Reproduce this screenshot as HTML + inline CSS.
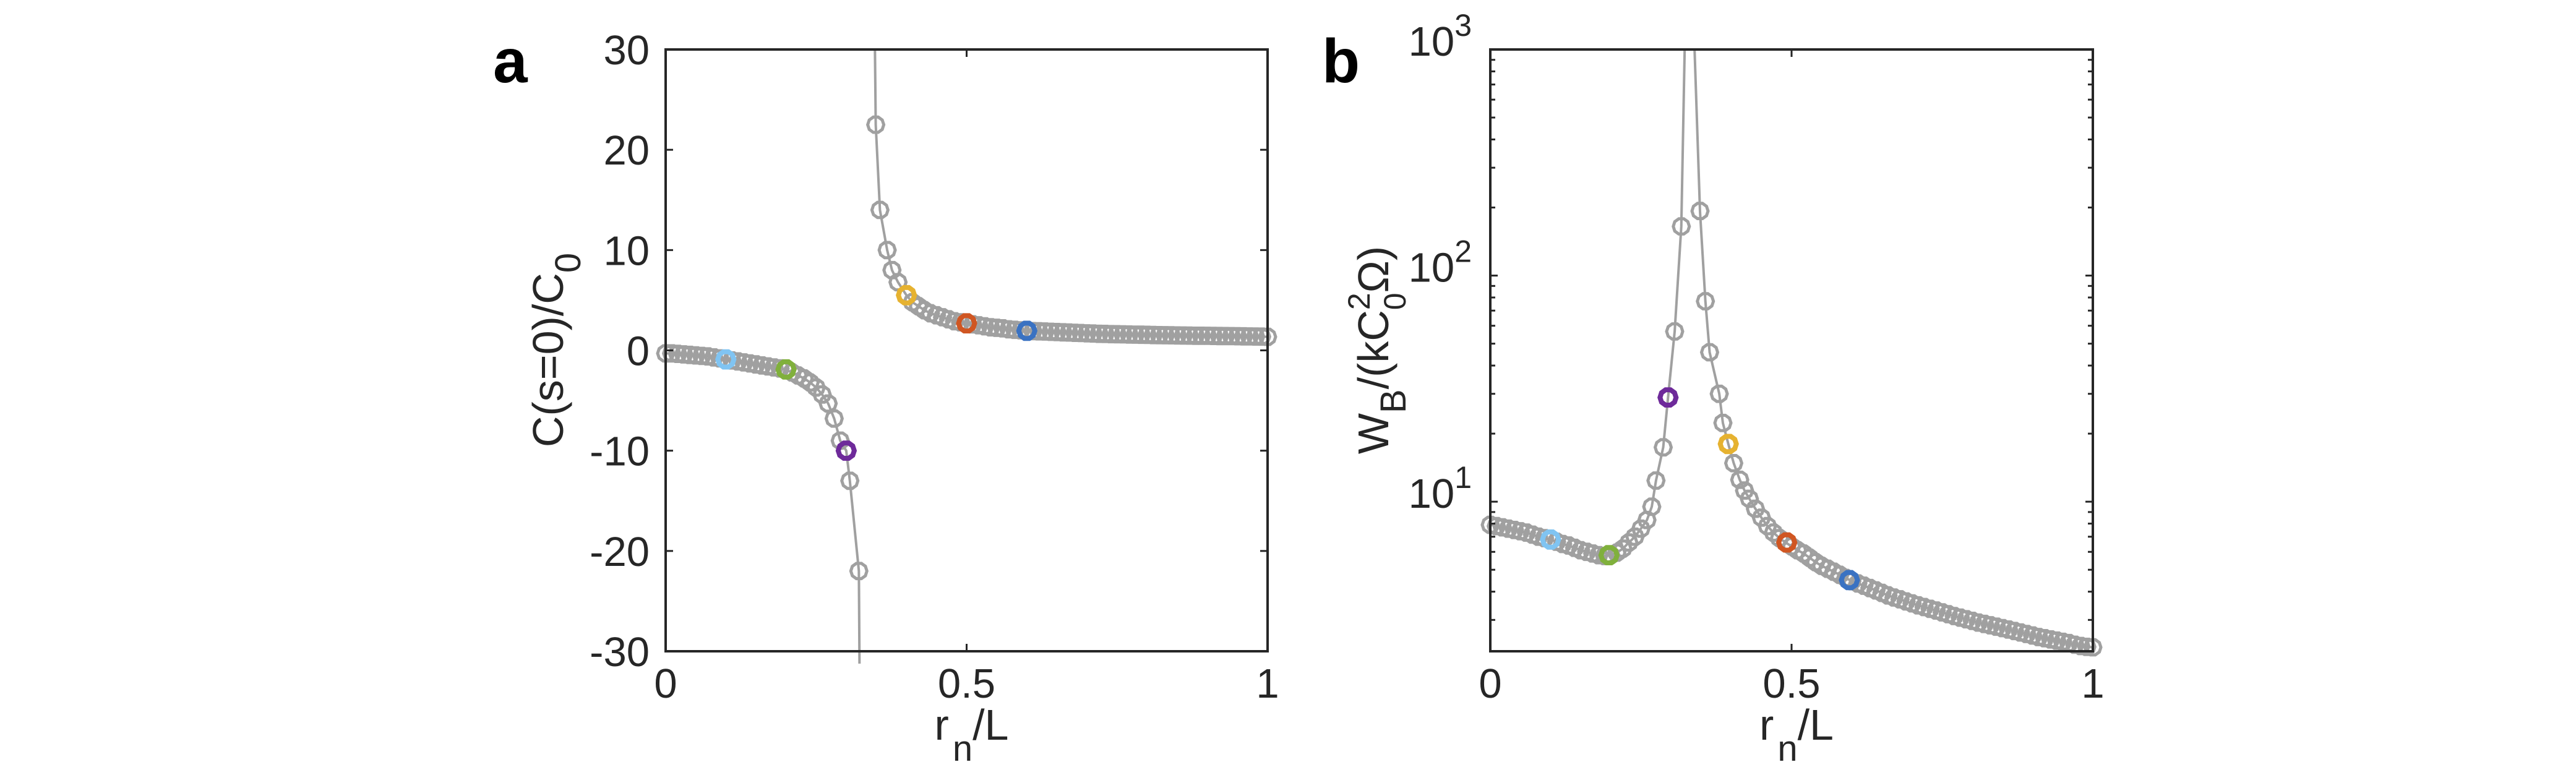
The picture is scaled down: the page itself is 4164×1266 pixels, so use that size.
<!DOCTYPE html>
<html><head><meta charset="utf-8"><style>
html,body{margin:0;padding:0;background:#fff;}
svg{display:block;font-family:"Liberation Sans",Arial,sans-serif;}
</style></head><body>
<svg id="fig" width="4164" height="1266" viewBox="0 0 4164 1266" xmlns="http://www.w3.org/2000/svg">
<g id="pa"></g>
<g id="pb"></g>
</svg>
<script>
// Panel a data
const aX = [0,.01,.02,.03,.04,.05,.06,.07,.08,.09,.10,.11,.12,.13,.14,.15,.16,.17,.18,.19,.20,.21,.22,.23,.24,.25,.26,.27,.28,.29,.30,.306,.321,
 .349,.356,.368,.376,.386,.40,.41,.42,.43,.44,.45,.46,.47,.48,.49,.50,.51,.52,.53,.54,.55,.56,.57,.58,.59,.60,.61,.62,.63,.64,.65,.66,.67,.68,.69,.70,
 .71,.72,.73,.74,.75,.76,.77,.78,.79,.80,.81,.82,.83,.84,.85,.86,.87,.88,.89,.90,.91,.92,.93,.94,.95,.96,.97,.98,.99,1.0];
const aY = [-0.3,-0.3,-0.35,-0.4,-0.45,-0.5,-0.55,-0.6,-0.7,-0.8,-0.9,-1.0,-1.1,-1.2,-1.3,-1.4,-1.5,-1.6,-1.7,-1.8,-1.95,-2.2,-2.5,-2.8,-3.2,-3.7,-4.4,-5.3,-6.8,-9,-10,-13,-22,
 22.5,14,10,8,6.8,5.5,4.8,4.4,4.0,3.7,3.5,3.3,3.1,2.9,2.8,2.7,2.6,2.5,2.4,2.3,2.25,2.2,2.1,2.05,2.0,1.95,1.92,1.9,1.88,1.85,1.83,1.8,1.78,1.75,1.73,1.7,
 1.68,1.65,1.64,1.62,1.61,1.6,1.58,1.57,1.56,1.55,1.53,1.52,1.51,1.5,1.49,1.48,1.47,1.46,1.455,1.45,1.44,1.43,1.425,1.42,1.41,1.4,1.39,1.38,1.37,1.35];
const aBranchSplit = 33;
const aLowEnd = [0.323,-40];
const aUpStart = [0.346,40];
const aHiX = [0.1,0.2,0.3,0.4,0.5,0.6];
const aHiY = [-0.9,-1.9,-10,5.5,2.7,1.95];
const aYTicks = [-30,-20,-10,0,10,20,30];
const aYTickLabels = ["-30","-20","-10","0","10","20","30"];
const xTicks = [0,0.5,1];
const xTickLabels = ["0","0.5","1"];
// Panel b data
const bX = [0,.01,.02,.03,.04,.05,.06,.07,.08,.09,.10,.11,.12,.13,.14,.15,.16,.17,.18,.19,.20,.21,.22,.23,.24,.25,.26,.268,.275,.287,.295,.306,.317,
 .348,.357,.364,.38,.386,.395,.404,.414,.422,.43,.44,.45,.46,.47,.48,.49,.50,.51,.52,.53,.54,.55,.56,.57,.58,.59,.60,.61,.62,.63,.64,.65,.66,.67,.68,.69,.70,
 .71,.72,.73,.74,.75,.76,.77,.78,.79,.80,.81,.82,.83,.84,.85,.86,.87,.88,.89,.90,.91,.92,.93,.94,.95,.96,.97,.98,.99,1.0];
const bY = [7.9,7.8,7.7,7.6,7.5,7.4,7.3,7.15,7.0,6.9,6.8,6.65,6.5,6.4,6.25,6.1,6.0,5.9,5.8,5.75,5.8,5.95,6.2,6.6,7.0,7.6,8.3,9.5,12.4,17.4,28.9,56.6,165,
 193,77,45.8,30,22.3,18,14.8,12.5,11.2,10.3,9.3,8.5,7.8,7.3,6.9,6.6,6.35,6.1,5.9,5.65,5.4,5.2,5.05,4.9,4.75,4.6,4.45,4.35,4.25,4.15,4.05,3.95,3.85,3.77,3.7,3.62,3.55,
 3.48,3.42,3.36,3.3,3.24,3.18,3.12,3.07,3.02,2.97,2.92,2.88,2.84,2.8,2.76,2.72,2.68,2.64,2.6,2.56,2.52,2.49,2.46,2.43,2.4,2.37,2.33,2.3,2.28,2.27];
const bBranchSplit = 33;
const bLowEnd = [0.326,3000];
const bUpStart = [0.333,3000];
const bHiX = [0.1,0.197,0.295,0.395,0.492,0.596];
const bHiY = [6.8,5.8,28.9,18,6.6,4.5];
const bYTicks = [10,100,1000];
const bYTickExp = ["1","2","3"];
const hiColors = ["#80c4f2","#80b03c","#6e2a9a","#e6b230","#d05622","#3a72c2"];
const hiNames = ["marker-0-1","marker-0-2","marker-0-3","marker-0-4","marker-0-5","marker-0-6"];

const NS="http://www.w3.org/2000/svg";
function mk(parent,tag,attrs,text){const e=document.createElementNS(NS,tag);for(const k in attrs)e.setAttribute(k,attrs[k]);if(text!==undefined)e.textContent=text;parent.appendChild(e);return e;}
const GRAY="#a0a0a0", AX="#262626";

function hexPts(cx,cy,r){let p=[];for(let i=0;i<10;i++){const t=i*Math.PI/5;p.push((cx+r*Math.cos(t)).toFixed(1)+","+(cy+r*Math.sin(t)).toFixed(1));}return p.join(" ");}

function drawPanel(g,L,R,T,B,sx,sy,X,Y,split,lowEnd,upStart,hiX,hiY,clipId){
  const defs=mk(g,'defs',{});
  const cp=mk(defs,'clipPath',{id:clipId});
  mk(cp,'rect',{x:L-20,y:T,width:R-L+40,height:B-T+20});
  const data=mk(g,'g',{'clip-path':'url(#'+clipId+')'});
  
  
  let d1="M"+sx(X[0])+","+sy(Y[0]);
  for(let i=1;i<split;i++) d1+=" L"+sx(X[i])+","+sy(Y[i]);
  d1+=" L"+sx(lowEnd[0])+","+sy(lowEnd[1]);
  let d2="M"+sx(upStart[0])+","+sy(upStart[1]);
  for(let i=split;i<X.length;i++) d2+=" L"+sx(X[i])+","+sy(Y[i]);
  const l1=mk(data,'path',{d:d1,fill:'none',stroke:GRAY,'stroke-width':4});
  
  
  const l2=mk(data,'path',{d:d2,fill:'none',stroke:GRAY,'stroke-width':4});
  
  
  for(let i=0;i<X.length;i++){
    const m=mk(data,'polygon',{points:hexPts(sx(X[i]),sy(Y[i]),13),fill:'none',stroke:GRAY,'stroke-width':5});
    
    
  }
  for(let i=0;i<hiX.length;i++){
    const m=mk(data,'polygon',{points:hexPts(sx(hiX[i]),sy(hiY[i]),13),fill:'none',stroke:hiColors[i],'stroke-width':8});
    
    
  }
  const box=mk(g,'rect',{x:L,y:T,width:R-L,height:B-T,fill:'none',stroke:AX,'stroke-width':4});
  
  
  xTicks.forEach((v,i)=>{
    const x=sx(v);
    mk(g,'line',{x1:x,x2:x,y1:B,y2:B-12,stroke:AX,'stroke-width':3});
    mk(g,'line',{x1:x,x2:x,y1:T,y2:T+12,stroke:AX,'stroke-width':3});
    const t=mk(g,'text',{x:x,y:B+75,'font-size':67,'text-anchor':'middle',fill:'#262626'},xTickLabels[i]);
    
    
  });
  const xl=mk(g,'text',{x:(L+R)/2+8,y:B+143,'font-size':70,'text-anchor':'middle',fill:'#262626'});
  
  
  mk(xl,'tspan',{},'r');
  mk(xl,'tspan',{dx:6,dy:34,'font-size':58},'n');
  mk(xl,'tspan',{dy:-34},'/L');
}

// Panel a
(function(){
  const g=document.getElementById('pa');
  const L=1076,R=2049,T=80,B=1053;
  const sx=v=>L+(R-L)*v;
  const sy=v=>B-(B-T)*(v+30)/60;
  drawPanel(g,L,R,T,B,sx,sy,aX,aY,aBranchSplit,aLowEnd,aUpStart,aHiX,aHiY,'ca');
  aYTicks.forEach((v,i)=>{
    const y=sy(v);
    mk(g,'line',{x1:L,x2:L+12,y1:y,y2:y,stroke:AX,'stroke-width':3});
    mk(g,'line',{x1:R,x2:R-12,y1:y,y2:y,stroke:AX,'stroke-width':3});
    const t=mk(g,'text',{x:L-26,y:y+24,'font-size':67,'text-anchor':'end',fill:'#262626'},aYTickLabels[i]);
    
    
  });
  const yl=mk(g,'text',{transform:'translate(910,566) rotate(-90)','font-size':70,'text-anchor':'middle',fill:'#262626'});
  
  
  mk(yl,'tspan',{},'C(s=0)/C');
  mk(yl,'tspan',{dy:28,'font-size':58},'0');
  const lab=mk(g,'text',{x:797,y:133,'font-size':100,'font-weight':'bold',fill:'#000'},'a');
  
  
})();

// Panel b
(function(){
  const g=document.getElementById('pb');
  const L=2409,R=3383,T=80,B=1053;
  const lmin=Math.log10(2.18), lmax=3;
  const sx=v=>L+(R-L)*v;
  const sy=v=>B-(B-T)*(Math.log10(v)-lmin)/(lmax-lmin);
  drawPanel(g,L,R,T,B,sx,sy,bX,bY,bBranchSplit,bLowEnd,bUpStart,bHiX,bHiY,'cb');
  for(let dec=1;dec<=1000;dec*=10){
    for(let k=1;k<10;k++){
      const v=dec*k; if(v<2.18||v>1000) continue;
      const y=sy(v); const len=(k===1)?12:8;
      mk(g,'line',{x1:L,x2:L+len,y1:y,y2:y,stroke:AX,'stroke-width':3});
      mk(g,'line',{x1:R,x2:R-len,y1:y,y2:y,stroke:AX,'stroke-width':3});
    }
  }
  bYTicks.forEach((v,i)=>{
    const y=sy(v);
    const t=mk(g,'text',{x:L-30,y:y+10,'font-size':67,'text-anchor':'end',fill:'#262626'});
    
    
    mk(t,'tspan',{},'10');
    mk(t,'tspan',{dy:-32,'font-size':50},bYTickExp[i]);
  });
  const yl=mk(g,'text',{transform:'translate(2244,566) rotate(-90)','font-size':70,'text-anchor':'middle',fill:'#262626'});
  
  
  mk(yl,'tspan',{},'W');
  mk(yl,'tspan',{dy:28,'font-size':58},'B');
  mk(yl,'tspan',{dy:-28},'/(kC');
  mk(yl,'tspan',{dy:-30,'font-size':50},'2');
  mk(yl,'tspan',{dx:-28,dy:58,'font-size':50},'0');
  mk(yl,'tspan',{dy:-28},'Ω)');
  const lab=mk(g,'text',{x:2137,y:133,'font-size':100,'font-weight':'bold',fill:'#000'},'b');
  
  
})();
</script>
</body></html>
